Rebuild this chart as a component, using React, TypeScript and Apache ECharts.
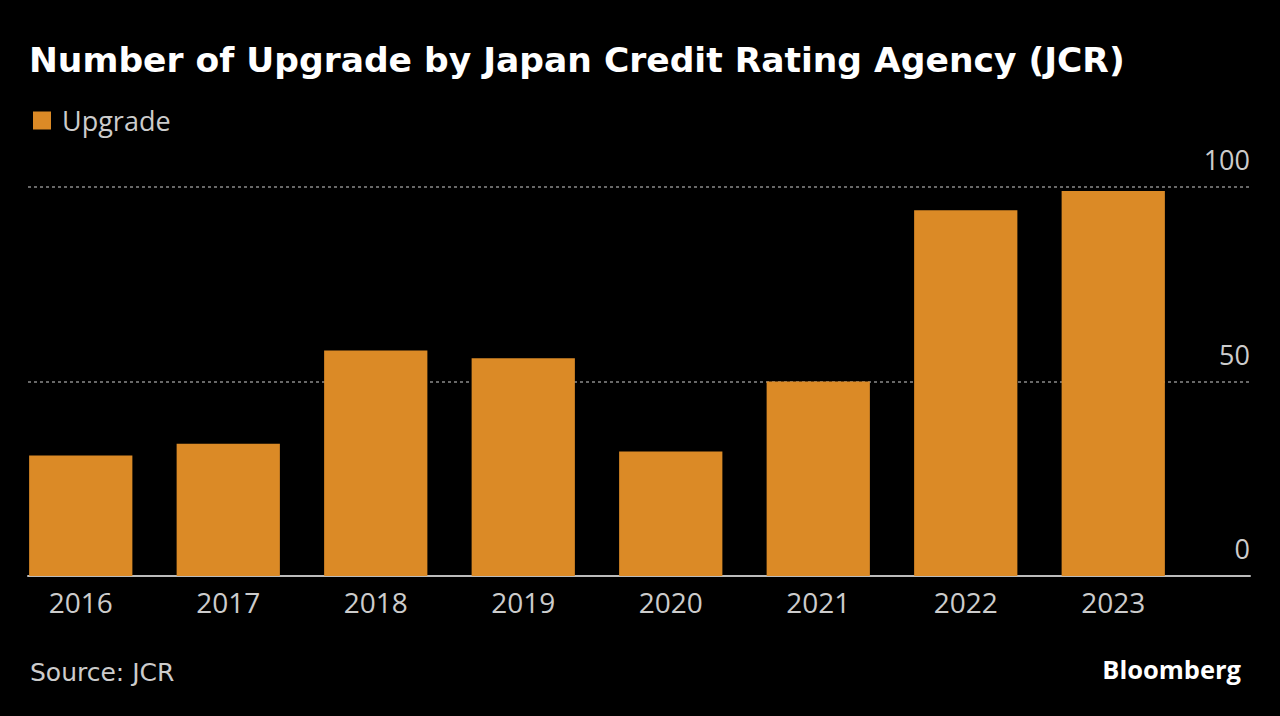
import React, { useEffect, useRef } from "react";
import * as echarts from "echarts";

const years = ["2016", "2017", "2018", "2019", "2020", "2021", "2022", "2023"];
const upgrades = [31, 34, 58, 56, 32, 50, 94, 99];
const yTicks = [0, 50, 100];

const TITLE = "Number of Upgrade by Japan Credit Rating Agency (JCR)";
const SOURCE = "Source: JCR";
const BAR_COLOR = "#db8a26";
const LABEL_FONT = "'Open Sans', 'Noto Sans', sans-serif";

export default function App() {
  const ref = useRef<HTMLDivElement>(null);
  useEffect(() => {
    if (!ref.current) return;
    const chart = echarts.init(ref.current, null, { renderer: "svg" });
    chart.setOption({
      animation: false,
      backgroundColor: "#000000",
      title: {
        text: TITLE,
        left: 24,
        top: 37,
        textStyle: {
          color: "#ffffff",
          fontSize: 34.5,
          fontWeight: "bold",
          fontFamily: "'DejaVu Sans', sans-serif",
        },
      },
      legend: {
        left: 33,
        top: 107,
        padding: 0,
        icon: "rect",
        itemWidth: 18,
        itemHeight: 18,
        textStyle: {
          color: "#cccccc",
          fontSize: 27,
          fontFamily: LABEL_FONT,
          padding: [0, 0, 0, 6],
        },
        data: ["Upgrade"],
      },
      grid: [
        { left: 7, right: 93, top: 187, bottom: 140 },
        { left: 28, right: 30, top: 187, bottom: 140 },
      ],
      xAxis: [
        {
          type: "category",
          gridIndex: 0,
          data: years,
          axisLine: { show: false },
          axisTick: { show: false },
          axisLabel: {
            color: "#cccccc",
            fontSize: 28,
            fontFamily: LABEL_FONT,
            margin: 12,
          },
        },
        {
          type: "value",
          gridIndex: 1,
          min: 0,
          max: 1,
          axisLine: { show: true, onZero: false, lineStyle: { color: "#bbbbbb", width: 2 } },
          axisTick: { show: false },
          axisLabel: { show: false },
          splitLine: { show: false },
        },
      ],
      yAxis: [
        {
          type: "value",
          gridIndex: 0,
          min: 0,
          max: 100,
          show: false,
          splitLine: { show: false },
        },
        {
          type: "value",
          gridIndex: 1,
          position: "right",
          min: yTicks[0],
          max: yTicks[yTicks.length - 1],
          interval: 50,
          axisLine: { show: false },
          axisTick: { show: false },
          axisLabel: {
            inside: true,
            margin: 0,
            align: "right",
            verticalAlign: "bottom",
            padding: [0, 0, 14, 0],
            color: "#cccccc",
            fontSize: 27,
            fontFamily: LABEL_FONT,
          },
          splitLine: {
            show: true,
            lineStyle: { color: "#8a8a8a", type: [3, 3], width: 1.5 },
          },
        },
      ],
      series: [
        {
          name: "Upgrade",
          type: "bar",
          xAxisIndex: 0,
          yAxisIndex: 0,
          data: upgrades,
          barCategoryGap: "30%",
          itemStyle: { color: BAR_COLOR },
        },
      ],
      graphic: [
        {
          type: "text",
          left: 30,
          top: 660,
          style: {
            text: SOURCE,
            fill: "#cccccc",
            fontSize: 25,
            fontFamily: "'DejaVu Sans', sans-serif",
          },
        },
        {
          type: "text",
          right: 39,
          top: 656,
          style: {
            text: "Bloomberg",
            fill: "#ffffff",
            fontSize: 25.5,
            fontWeight: "bold",
            fontFamily: "'Open Sans', sans-serif",
          },
        },
      ],
    });
    return () => chart.dispose();
  }, []);
  return (
    <div
      ref={ref}
      style={{ position: "fixed", left: 0, top: 0, width: 1280, height: 716 }}
    />
  );
}
